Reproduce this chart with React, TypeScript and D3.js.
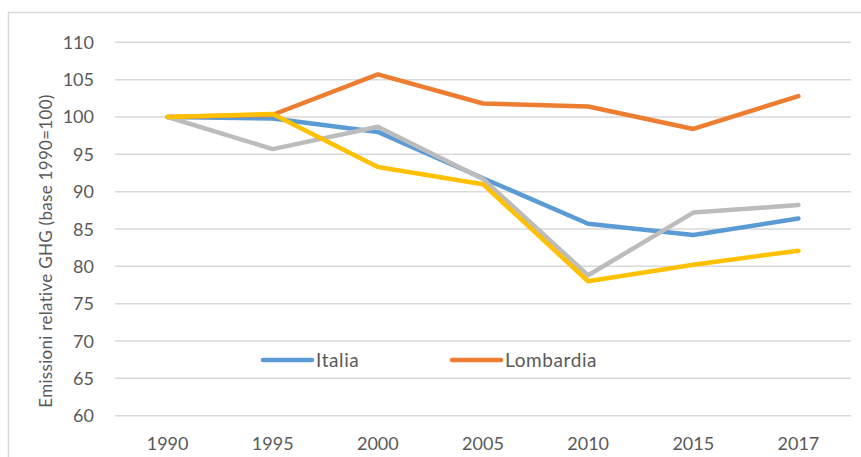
import { useEffect, useRef } from "react";
import * as d3 from "d3";

const years = ["1990", "1995", "2000", "2005", "2010", "2015", "2017"];
const italia = [100, 99.8, 98.0, 91.8, 85.7, 84.2, 86.4];
const lombardia = [100, 100.3, 105.7, 101.8, 101.4, 98.4, 102.8];
const grigio = [100, 95.7, 98.7, 91.7, 78.8, 87.2, 88.2];
const giallo = [100, 100.4, 93.3, 91.0, 78.0, 80.2, 82.1];
const yTicks = [60, 65, 70, 75, 80, 85, 90, 95, 100, 105, 110];

const FONT = "Lato, 'Open Sans', sans-serif";

export default function App() {
  const svgRef = useRef(null);

  useEffect(() => {
    const width = 861;
    const height = 457;
    const plot = { left: 115, right: 851, top: 42.3, bottom: 415.7 };

    const svg = d3.select(svgRef.current);
    svg.attr("width", width).attr("height", height).selectAll("*").remove();

    // chart frame (runs off the picture on the right and bottom)
    svg
      .append("rect")
      .attr("x", 8.5)
      .attr("y", 12.5)
      .attr("width", 880)
      .attr("height", 480)
      .attr("fill", "white")
      .attr("stroke", "#d9d9d9")
      .attr("stroke-width", 1.5);

    const x = d3.scaleBand().domain(years).range([plot.left, plot.right]);
    const y = d3.scaleLinear().domain([60, 110]).range([plot.bottom, plot.top]);
    const cx = (d) => x(d) + x.bandwidth() / 2;

    // gridlines
    svg
      .append("g")
      .selectAll("line")
      .data(yTicks)
      .enter()
      .append("line")
      .attr("x1", plot.left)
      .attr("x2", plot.right)
      .attr("y1", (d) => y(d))
      .attr("y2", (d) => y(d))
      .attr("stroke", "#d9d9d9")
      .attr("stroke-width", 1.5);

    // y tick labels
    svg
      .append("g")
      .selectAll("text")
      .data(yTicks)
      .enter()
      .append("text")
      .attr("x", 94)
      .attr("y", (d) => y(d) + 6.5)
      .attr("text-anchor", "end")
      .attr("font-family", FONT)
      .attr("font-size", 18)
      .attr("fill", "#595959")
      .text((d) => d);

    // x tick labels
    svg
      .append("g")
      .selectAll("text")
      .data(years)
      .enter()
      .append("text")
      .attr("x", (d) => cx(d))
      .attr("y", 450)
      .attr("text-anchor", "middle")
      .attr("font-family", FONT)
      .attr("font-size", 18)
      .attr("fill", "#595959")
      .text((d) => d);

    // axis title
    svg
      .append("text")
      .attr("transform", "translate(52,251) rotate(-90)")
      .attr("text-anchor", "middle")
      .attr("font-family", FONT)
      .attr("font-size", 17)
      .attr("letter-spacing", 0.3)
      .attr("fill", "#595959")
      .text("Emissioni relative GHG (base 1990=100)");

    const series = [
      { name: "Italia", values: italia, color: "#5B9BD5" },
      { name: "Lombardia", values: lombardia, color: "#ED7D31" },
      { name: "", values: grigio, color: "#BCBCBC" },
      { name: "", values: giallo, color: "#FFC000" },
    ];

    const line = d3
      .line()
      .x((d, i) => cx(years[i]))
      .y((d) => y(d));

    svg
      .append("g")
      .selectAll("path")
      .data(series)
      .enter()
      .append("path")
      .attr("d", (s) => line(s.values))
      .attr("fill", "none")
      .attr("stroke", (s) => s.color)
      .attr("stroke-width", 4.5)
      .attr("stroke-linejoin", "round")
      .attr("stroke-linecap", "round");

    // legend (only the two named series)
    const legend = svg
      .append("g")
      .selectAll("g")
      .data(series.filter((s) => s.name))
      .enter()
      .append("g")
      .attr("transform", (s, i) => `translate(${263 + i * 189},360)`);

    legend
      .append("line")
      .attr("x1", 0)
      .attr("x2", 49)
      .attr("stroke", (s) => s.color)
      .attr("stroke-width", 4.5)
      .attr("stroke-linecap", "round");

    legend
      .append("text")
      .attr("x", 53)
      .attr("y", 6.5)
      .attr("font-family", FONT)
      .attr("font-size", 19)
      .attr("letter-spacing", 0.6)
      .attr("fill", "#595959")
      .text((s) => s.name);
  }, []);

  return (
    <svg
      ref={svgRef}
      style={{ position: "absolute", left: 0, top: 0 }}
    ></svg>
  );
}
